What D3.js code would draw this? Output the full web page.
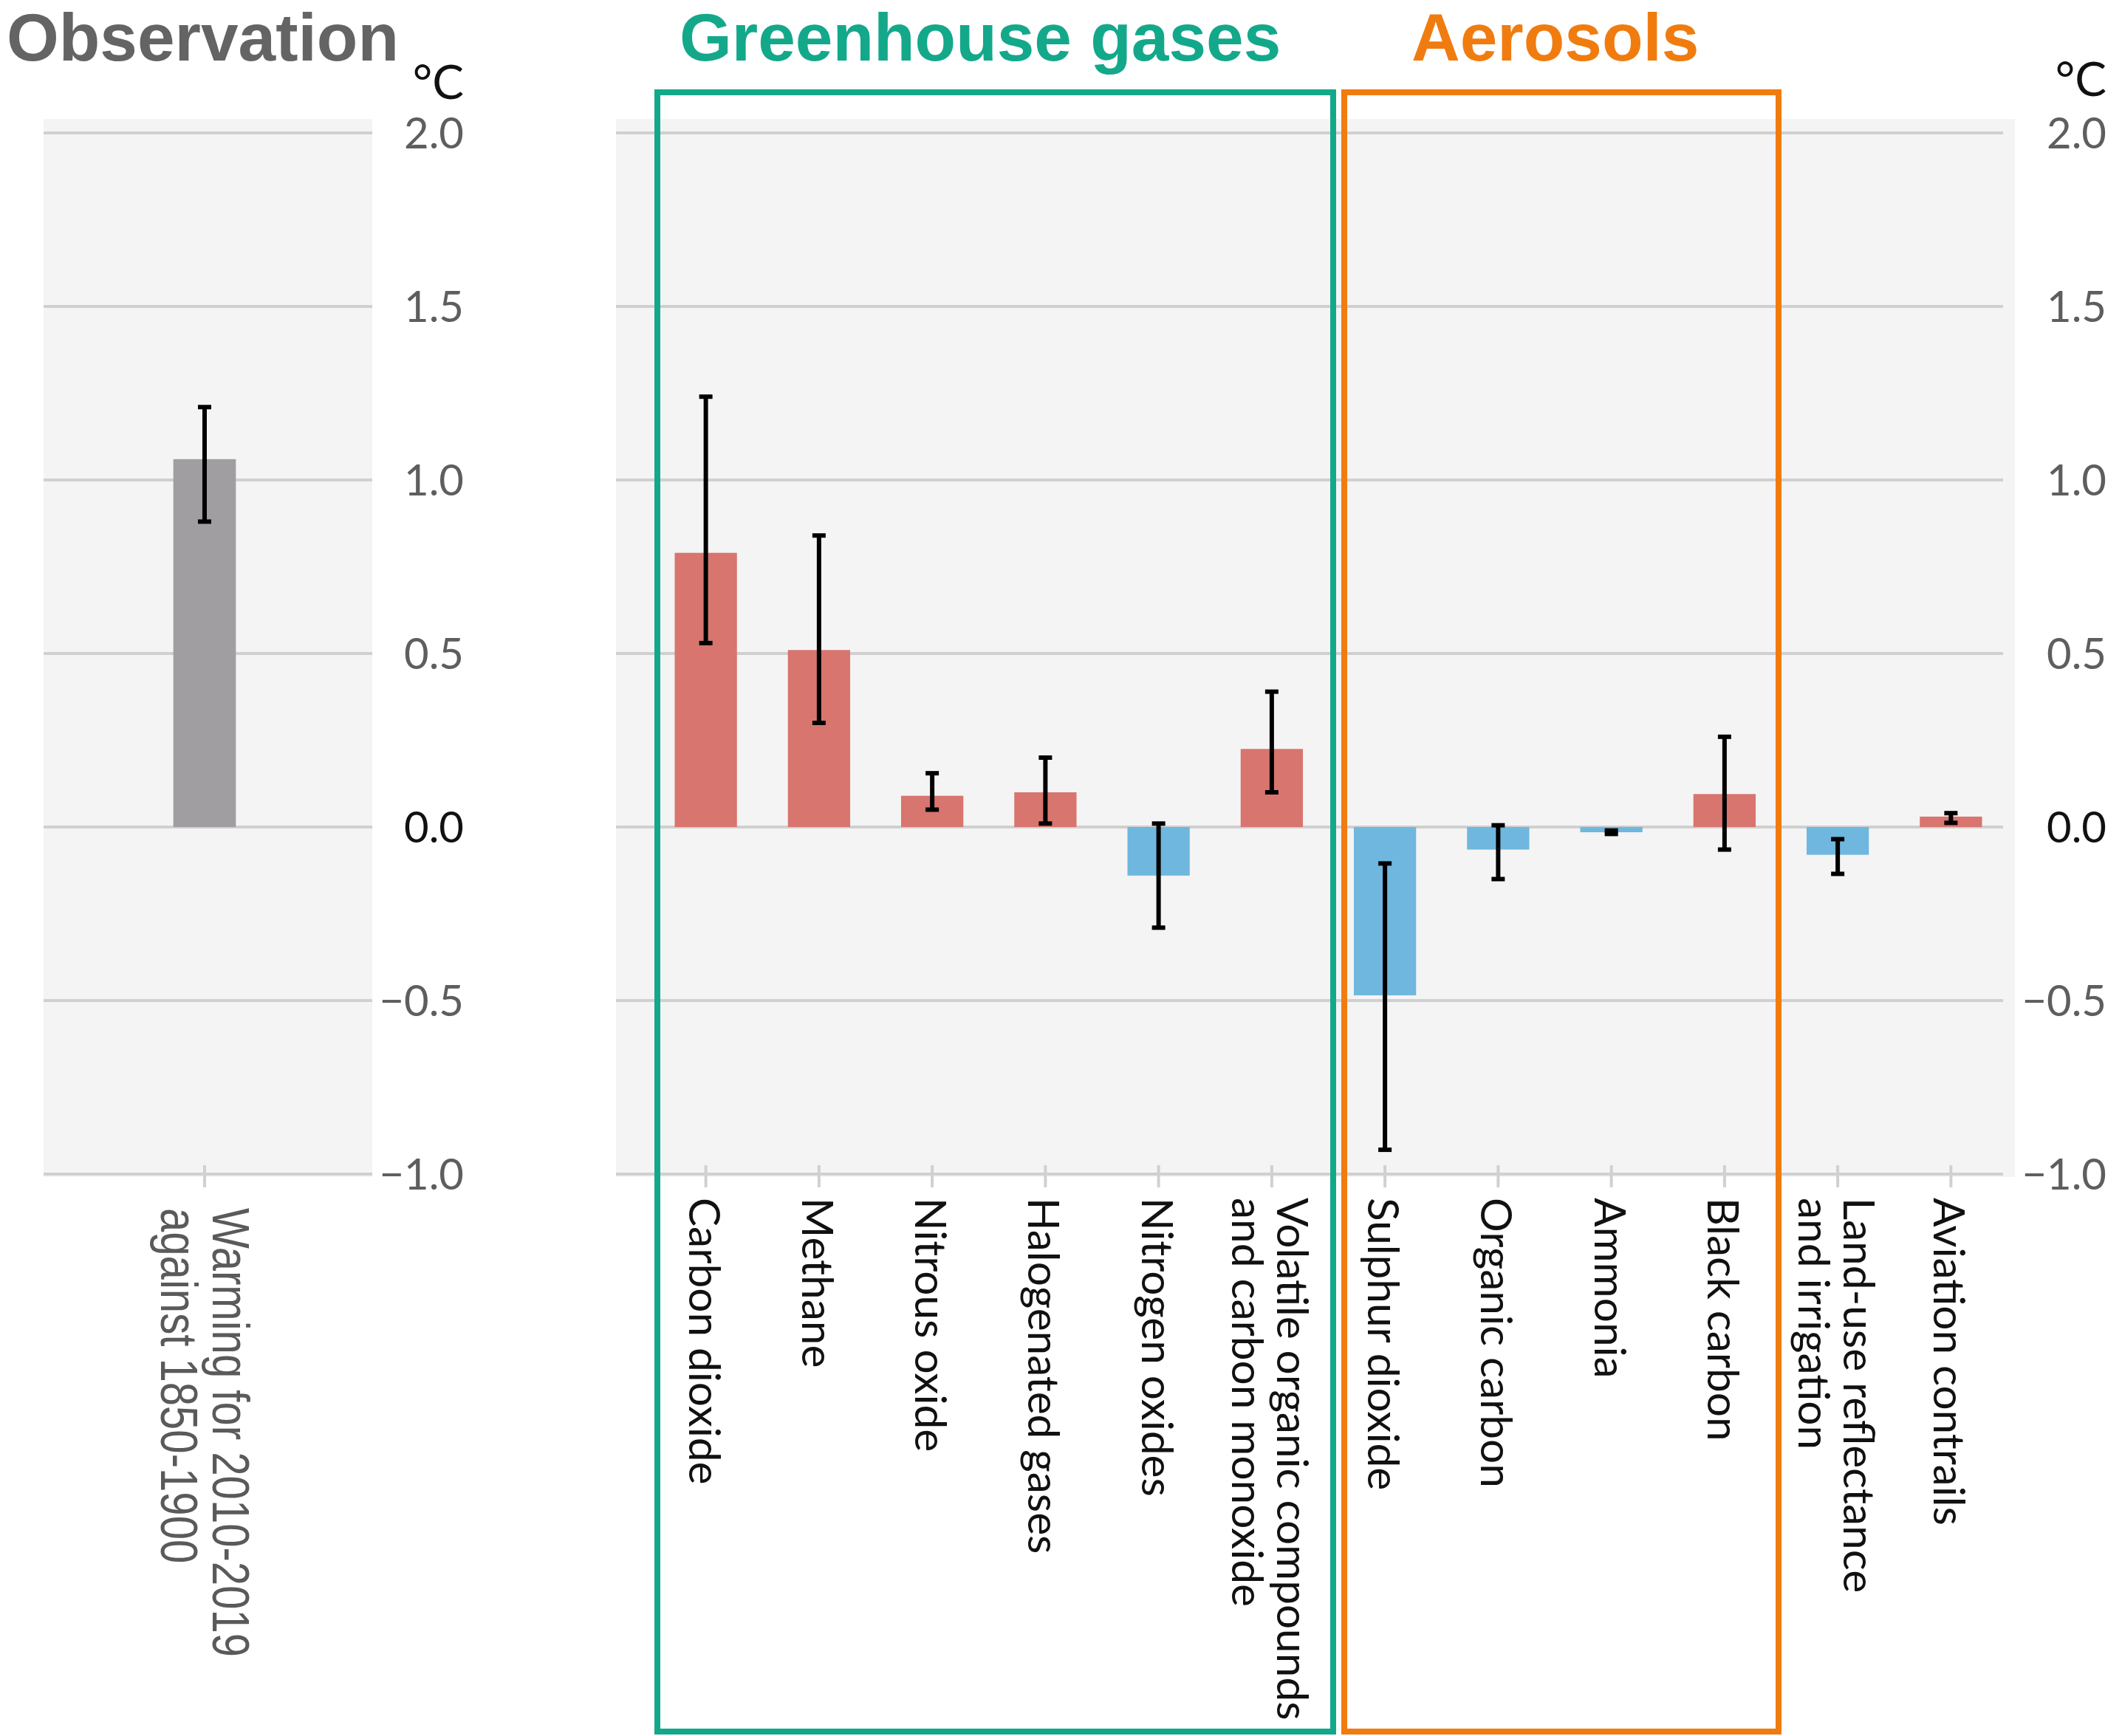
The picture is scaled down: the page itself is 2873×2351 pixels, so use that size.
<!DOCTYPE html>
<html>
<head>
<meta charset="utf-8">
<script src="https://cdn.jsdelivr.net/npm/d3@7"></script>
<style>
  body { margin: 0; background: #fff; }
  svg text { font-family: Lato, "Open Sans", sans-serif; }
</style>
</head>
<body>
<div id="chart"></div>
<script>
// Contributions to warming, 2010-2019 vs 1850-1900 (°C)
const categories = [
    "Carbon dioxide", "Methane", "Nitrous oxide", "Halogenated gases", "Nitrogen oxides",
    "Volatile organic compounds|and carbon monoxide",
    "Sulphur dioxide", "Organic carbon", "Ammonia", "Black carbon",
    "Land-use reflectance|and irrigation", "Aviation contrails"
];
const values  = [0.79, 0.51, 0.09, 0.10, -0.14, 0.225, -0.485, -0.065, -0.015, 0.095, -0.08, 0.03];
const errLow  = [0.53, 0.30, 0.05, 0.01, -0.29, 0.10, -0.93, -0.15, -0.02, -0.065, -0.135, 0.012];
const errHigh = [1.24, 0.84, 0.155, 0.20, 0.01, 0.39, -0.105, 0.005, -0.01, 0.26, -0.035, 0.04];

// Observed warming
const obsCategory = ["Warming for 2010-2019|against 1850-1900"];
const obsValue = [1.06];
const obsLow = [0.88];
const obsHigh = [1.21];

// Axis ticks
const tickValues = [2.0, 1.5, 1.0, 0.5, 0.0, -0.5, -1.0];
const tickLabels = ["2.0", "1.5", "1.0", "0.5", "0.0", "\u22120.5", "\u22121.0"];

const W = 2873, H = 2351;
const red = "#d8756e", blue = "#6fb7de", grey = "#a09ea0";
const teal = "#14a88b", orange = "#f07c10";

const svg = d3.select("#chart")
    .append("svg")
    .attr("width", W)
    .attr("height", H);

svg.append("rect").attr("width", W).attr("height", H).attr("fill", "#fff");

// shared y scale
const yScale = d3.scaleLinear().domain([-1, 2]).range([1590, 180]);

// x scales for the two panels
const xMain = d3.scaleBand()
    .domain(categories)
    .range([879, 2718])
    .paddingInner(0.45)
    .paddingOuter(0.225);

const xObs = d3.scaleBand()
    .domain(obsCategory)
    .range([200, 354])
    .paddingInner(0.45)
    .paddingOuter(0.225);

// draw one panel (background, gridlines, tick labels, bars, error bars, category labels)
function drawPanel(opts) {
    const g = svg.append("g");

    g.append("rect")
        .attr("x", opts.gridX0)
        .attr("y", yScale(2.04))
        .attr("width", opts.bgX1 - opts.gridX0)
        .attr("height", yScale(-1) - yScale(2.04) + 4)
        .attr("fill", "#f4f4f4");

    // gridlines
    g.selectAll(".grid")
        .data(tickValues)
        .join("line")
        .attr("x1", opts.gridX0)
        .attr("x2", opts.gridX1)
        .attr("y1", d => yScale(d))
        .attr("y2", d => yScale(d))
        .attr("stroke", "#d0d0d0")
        .attr("stroke-width", 4);

    // tick labels
    g.selectAll(".tick-label")
        .data(tickValues)
        .join("text")
        .attr("x", opts.labelX)
        .attr("y", d => yScale(d))
        .attr("dy", "0.36em")
        .attr("text-anchor", "end")
        .attr("font-size", 58)
        .attr("fill", d => d === 0 ? "#111" : "#5e5e5e")
        .text((d, i) => tickLabels[i]);

    // unit
    g.append("text")
        .attr("x", opts.labelX)
        .attr("y", opts.unitY)
        .attr("text-anchor", "end")
        .attr("font-size", 64)
        .attr("fill", "#111")
        .text("\u00b0C");

    const x = opts.x;

    // small ticks under the bottom gridline
    g.selectAll(".xtick")
        .data(x.domain())
        .join("line")
        .attr("x1", d => x(d) + x.bandwidth() / 2)
        .attr("x2", d => x(d) + x.bandwidth() / 2)
        .attr("y1", yScale(-1) - 12)
        .attr("y2", yScale(-1) + 18)
        .attr("stroke", "#d0d0d0")
        .attr("stroke-width", 4);

    // bars
    g.selectAll(".bar")
        .data(opts.values)
        .join("rect")
        .attr("x", (d, i) => x(x.domain()[i]))
        .attr("y", d => yScale(Math.max(0, d)))
        .attr("width", x.bandwidth())
        .attr("height", d => Math.abs(yScale(d) - yScale(0)))
        .attr("fill", opts.color);

    // error bars
    const err = g.selectAll(".err")
        .data(opts.values.map((v, i) => ({ c: x.domain()[i], lo: opts.low[i], hi: opts.high[i] })))
        .join("g")
        .attr("transform", d => `translate(${x(d.c) + x.bandwidth() / 2},0)`);

    err.append("line")
        .attr("y1", d => yScale(d.lo))
        .attr("y2", d => yScale(d.hi))
        .attr("stroke", "#000")
        .attr("stroke-width", 6);

    err.selectAll(".cap")
        .data(d => [d.lo, d.hi])
        .join("line")
        .attr("x1", -9)
        .attr("x2", 9)
        .attr("y1", d => yScale(d))
        .attr("y2", d => yScale(d))
        .attr("stroke", "#000")
        .attr("stroke-width", 6);

    // rotated category labels (squeezed along the text when catSqueeze < 1)
    const lab = g.selectAll(".cat")
        .data(x.domain())
        .join("g")
        .attr("transform", d => `translate(${x(d) + x.bandwidth() / 2},${opts.labelTop}) rotate(90) scale(${opts.catSqueeze},1)`);

    lab.selectAll("text")
        .data(d => {
            const parts = d.split("|");
            return parts.map((t, i) => ({ t, off: (i - (parts.length - 1) / 2) * opts.lineH }));
        })
        .join("text")
        .attr("x", 0)
        .attr("y", d => d.off)
        .attr("dominant-baseline", "central")
        .attr("font-size", opts.catSize)
        .attr("fill", opts.catColor)
        .style("font-family", opts.catFont)
        .text(d => d.t);
}

drawPanel({
    x: xObs, values: obsValue, low: obsLow, high: obsHigh,
    color: () => grey,
    gridX0: 59, gridX1: 504, bgX1: 504,
    labelX: 628, unitY: 134,
    labelTop: 1636, lineH: 70, catSize: 70, catColor: "#5a5a5a",
    catFont: "'Liberation Sans', Arial, sans-serif",
    catSqueeze: 0.83
});

drawPanel({
    x: xMain, values: values, low: errLow, high: errHigh,
    color: d => d >= 0 ? red : blue,
    gridX0: 834, gridX1: 2712, bgX1: 2728,
    labelX: 2852, unitY: 130,
    labelTop: 1622, lineH: 61, catSize: 58.5, catColor: "#111",
    catFont: "Lato, 'Open Sans', sans-serif",
    catSqueeze: 1
});

// group boxes
svg.append("rect")
    .attr("x", 890).attr("y", 125)
    .attr("width", 1805 - 890).attr("height", 2345 - 125)
    .attr("fill", "none")
    .attr("stroke", teal)
    .attr("stroke-width", 8);

svg.append("rect")
    .attr("x", 1820).attr("y", 125)
    .attr("width", 2408 - 1820).attr("height", 2345 - 125)
    .attr("fill", "none")
    .attr("stroke", orange)
    .attr("stroke-width", 8);

// headings
const headFont = "'Liberation Sans', Arial, sans-serif";
svg.append("text")
    .attr("x", 9).attr("y", 82)
    .attr("font-size", 91).attr("font-weight", "bold")
    .attr("fill", "#646464")
    .style("font-family", headFont)
    .text("Observation");

svg.append("text")
    .attr("x", 920).attr("y", 82)
    .attr("font-size", 91).attr("font-weight", "bold")
    .attr("fill", teal)
    .style("font-family", headFont)
    .text("Greenhouse gases");

svg.append("text")
    .attr("x", 1911).attr("y", 82)
    .attr("font-size", 91).attr("font-weight", "bold")
    .attr("fill", orange)
    .style("font-family", headFont)
    .text("Aerosols");
</script>
</body>
</html>
